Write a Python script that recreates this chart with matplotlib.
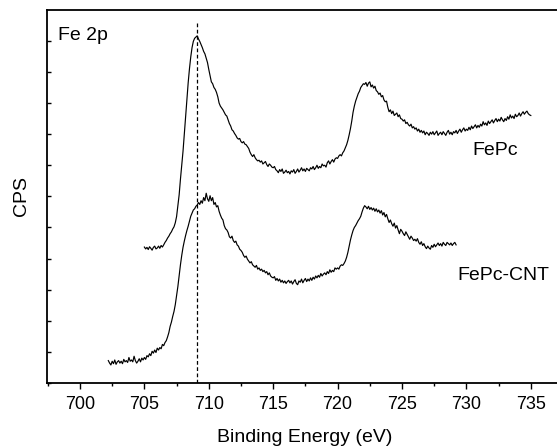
import numpy as np
import matplotlib
matplotlib.use("Agg")
import matplotlib.pyplot as plt
from matplotlib.ticker import MultipleLocator

plt.rcParams['font.family'] = ['Liberation Sans', 'DejaVu Sans']

# Fe 2p spectra, 0.1 eV steps
step = 0.1

fepc_start = 705.0
fepc_cps = [
    4.37, 4.31, 4.36, 4.29, 4.38, 4.33, 4.27, 4.36, 4.40, 4.31,
    4.34, 4.40, 4.33, 4.42, 4.37, 4.44, 4.52, 4.58, 4.66, 4.72,
    4.80, 4.86, 4.95, 5.02, 5.15, 5.35, 5.70, 6.05, 6.55, 7.00,
    7.45, 8.00, 8.55, 9.10, 9.65, 10.10, 10.48, 10.78, 10.98, 11.08,
    11.12, 11.16, 11.06, 10.98, 10.88, 10.78, 10.66, 10.58, 10.44, 10.30,
    10.08, 9.88, 9.68, 9.62, 9.50, 9.44, 9.34, 9.20, 9.00, 8.90,
    8.84, 8.78, 8.70, 8.62, 8.58, 8.46, 8.34, 8.26, 8.14, 8.10,
    8.02, 7.96, 7.88, 7.84, 7.86, 7.76, 7.72, 7.76, 7.68, 7.66,
    7.60, 7.54, 7.42, 7.34, 7.28, 7.34, 7.24, 7.18, 7.14, 7.16,
    7.10, 7.14, 7.04, 7.08, 7.12, 7.02, 6.96, 7.04, 7.00, 6.94,
    6.92, 6.96, 6.86, 6.82, 6.76, 6.86, 6.80, 6.88, 6.74, 6.78,
    6.84, 6.76, 6.80, 6.72, 6.82, 6.78, 6.86, 6.74, 6.80, 6.88,
    6.78, 6.84, 6.92, 6.82, 6.88, 6.80, 6.90, 6.86, 6.82, 6.92,
    6.88, 6.96, 6.86, 6.92, 7.00, 6.90, 6.96, 6.92, 7.04, 6.98,
    7.00, 6.94, 7.08, 7.14, 7.04, 7.12, 7.18, 7.10, 7.20, 7.24,
    7.22, 7.30, 7.34, 7.30, 7.40, 7.46, 7.56, 7.66, 7.80, 7.98,
    8.18, 8.42, 8.70, 8.90, 9.06, 9.18, 9.30, 9.38, 9.50, 9.56,
    9.62, 9.60, 9.66, 9.54, 9.64, 9.68, 9.52, 9.58, 9.48, 9.54,
    9.40, 9.36, 9.28, 9.32, 9.20, 9.24, 9.10, 9.04, 9.06, 8.86,
    8.72, 8.78, 8.66, 8.74, 8.60, 8.64, 8.68, 8.56, 8.62, 8.50,
    8.48, 8.42, 8.46, 8.34, 8.38, 8.30, 8.26, 8.32, 8.20, 8.24,
    8.16, 8.20, 8.10, 8.16, 8.06, 8.12, 8.04, 8.10, 7.98, 8.06,
    8.02, 7.96, 8.06, 8.00, 8.08, 7.98, 8.04, 8.10, 7.96, 8.02,
    8.06, 7.98, 8.08, 8.02, 7.96, 8.06, 8.12, 8.00, 8.06, 7.98,
    8.08, 8.04, 8.12, 8.02, 8.10, 8.16, 8.06, 8.14, 8.20, 8.10,
    8.16, 8.12, 8.22, 8.14, 8.26, 8.18, 8.24, 8.30, 8.20, 8.28,
    8.22, 8.32, 8.26, 8.40, 8.30, 8.36, 8.28, 8.42, 8.34, 8.40,
    8.46, 8.36, 8.44, 8.50, 8.40, 8.48, 8.42, 8.54, 8.46, 8.40,
    8.50, 8.44, 8.56, 8.48, 8.62, 8.52, 8.58, 8.50, 8.64, 8.56,
    8.60, 8.68, 8.58, 8.66, 8.72, 8.64, 8.70, 8.74, 8.66, 8.62,
    8.60,
]

cnt_start = 702.2
cnt_cps = [
    0.72, 0.64, 0.58, 0.70, 0.62, 0.74, 0.60, 0.68,
    0.72, 0.64, 0.70, 0.62, 0.76, 0.68, 0.72, 0.66, 0.82, 0.70,
    0.74, 0.68, 0.86, 0.72, 0.64, 0.70, 0.78, 0.68, 0.80, 0.74,
    0.82, 0.76, 0.88, 0.84, 0.94, 0.88, 1.02, 0.96, 1.06, 0.98,
    1.12, 1.06, 1.14, 1.10, 1.24, 1.20, 1.30, 1.36, 1.48, 1.62,
    1.82, 1.96, 2.14, 2.30, 2.52, 2.80, 3.10, 3.45, 3.80, 4.10,
    4.36, 4.56, 4.74, 4.90, 5.04, 5.20, 5.36, 5.46, 5.56, 5.60,
    5.68, 5.72, 5.80, 5.74, 5.86, 5.78, 5.96, 5.86, 6.10, 5.92,
    5.84, 6.02, 5.86, 5.96, 5.74, 5.80, 5.66, 5.70, 5.52, 5.40,
    5.30, 5.24, 5.06, 4.96, 4.92, 4.84, 4.70, 4.66, 4.72, 4.58,
    4.52, 4.56, 4.44, 4.40, 4.30, 4.26, 4.20, 4.10, 4.04, 4.08,
    3.98, 3.92, 3.86, 3.90, 3.80, 3.76, 3.72, 3.78, 3.66, 3.70,
    3.62, 3.66, 3.58, 3.62, 3.54, 3.58, 3.48, 3.54, 3.44, 3.40,
    3.38, 3.42, 3.30, 3.36, 3.28, 3.34, 3.24, 3.30, 3.22, 3.28,
    3.20, 3.26, 3.30, 3.22, 3.28, 3.18, 3.26, 3.32, 3.20, 3.16,
    3.28, 3.24, 3.34, 3.22, 3.30, 3.36, 3.26, 3.34, 3.28, 3.38,
    3.30, 3.40, 3.34, 3.44, 3.38, 3.46, 3.40, 3.52, 3.44, 3.50,
    3.54, 3.48, 3.58, 3.52, 3.64, 3.56, 3.62, 3.58, 3.70, 3.66,
    3.70, 3.66, 3.76, 3.80, 3.78, 3.84, 3.92, 4.04, 4.20, 4.40,
    4.60, 4.76, 4.90, 5.00, 5.06, 5.14, 5.22, 5.28, 5.36, 5.50,
    5.62, 5.70, 5.66, 5.60, 5.68, 5.58, 5.64, 5.56, 5.62, 5.52,
    5.60, 5.50, 5.56, 5.46, 5.54, 5.40, 5.48, 5.34, 5.42, 5.28,
    5.16, 5.24, 5.12, 5.04, 5.14, 4.98, 5.06, 4.92, 4.80, 4.94,
    4.88, 4.80, 4.74, 4.86, 4.78, 4.70, 4.62, 4.72, 4.66, 4.58,
    4.62, 4.56, 4.64, 4.52, 4.46, 4.54, 4.42, 4.48, 4.38, 4.32,
    4.40, 4.34, 4.30, 4.42, 4.36, 4.46, 4.38, 4.44, 4.50, 4.42,
    4.48, 4.40, 4.52, 4.46, 4.42, 4.52, 4.48, 4.44, 4.50, 4.42,
    4.48, 4.52, 4.44,
]

peak_ref = 709.1
x_ticks = [700, 705, 710, 715, 720, 725, 730, 735]

fepc_be = fepc_start + step * np.arange(len(fepc_cps))
cnt_be = cnt_start + step * np.arange(len(cnt_cps))

fig = plt.figure(figsize=(5.57, 4.48), dpi=100)
W, H = 557, 448
ax = fig.add_axes([47 / W, 65 / H, 516 / W, 373 / H])

ax.plot(fepc_be, fepc_cps, color='black', lw=0.85)
ax.plot(cnt_be, cnt_cps, color='black', lw=0.85)
ax.plot([peak_ref, peak_ref], [0, 11.6], color='black', lw=0.9,
        linestyle=(0, (3, 2)))

ax.set_xlim(697.44, 737.5)
ax.set_ylim(0, 11.99)

ax.set_xticks(x_ticks)
ax.xaxis.set_minor_locator(MultipleLocator(2.5))
ax.yaxis.set_major_locator(MultipleLocator(1))
ax.set_yticklabels([])
ax.tick_params(axis='x', which='major', direction='out', length=4,
               width=1, labelsize=13, pad=5)
ax.tick_params(axis='x', which='minor', direction='out', length=2.5, width=1)
ax.tick_params(axis='y', which='major', direction='in', length=3, width=1,
               labelleft=False)
for s in ('left', 'bottom', 'top'):
    ax.spines[s].set_linewidth(1.3)
ax.spines['right'].set_visible(False)

ax.set_xlabel('Binding Energy (eV)', fontsize=14, labelpad=12)
ax.set_ylabel('CPS', fontsize=14, labelpad=12)

ax.text(698.29, 11.45, 'Fe 2p', fontsize=14, ha='left', va='top')
ax.text(730.43, 7.46, 'FePc', fontsize=14, ha='left', va='center')
ax.text(729.27, 3.47, 'FePc-CNT', fontsize=14, ha='left', va='center')

fig.savefig('out.png', dpi=100)
